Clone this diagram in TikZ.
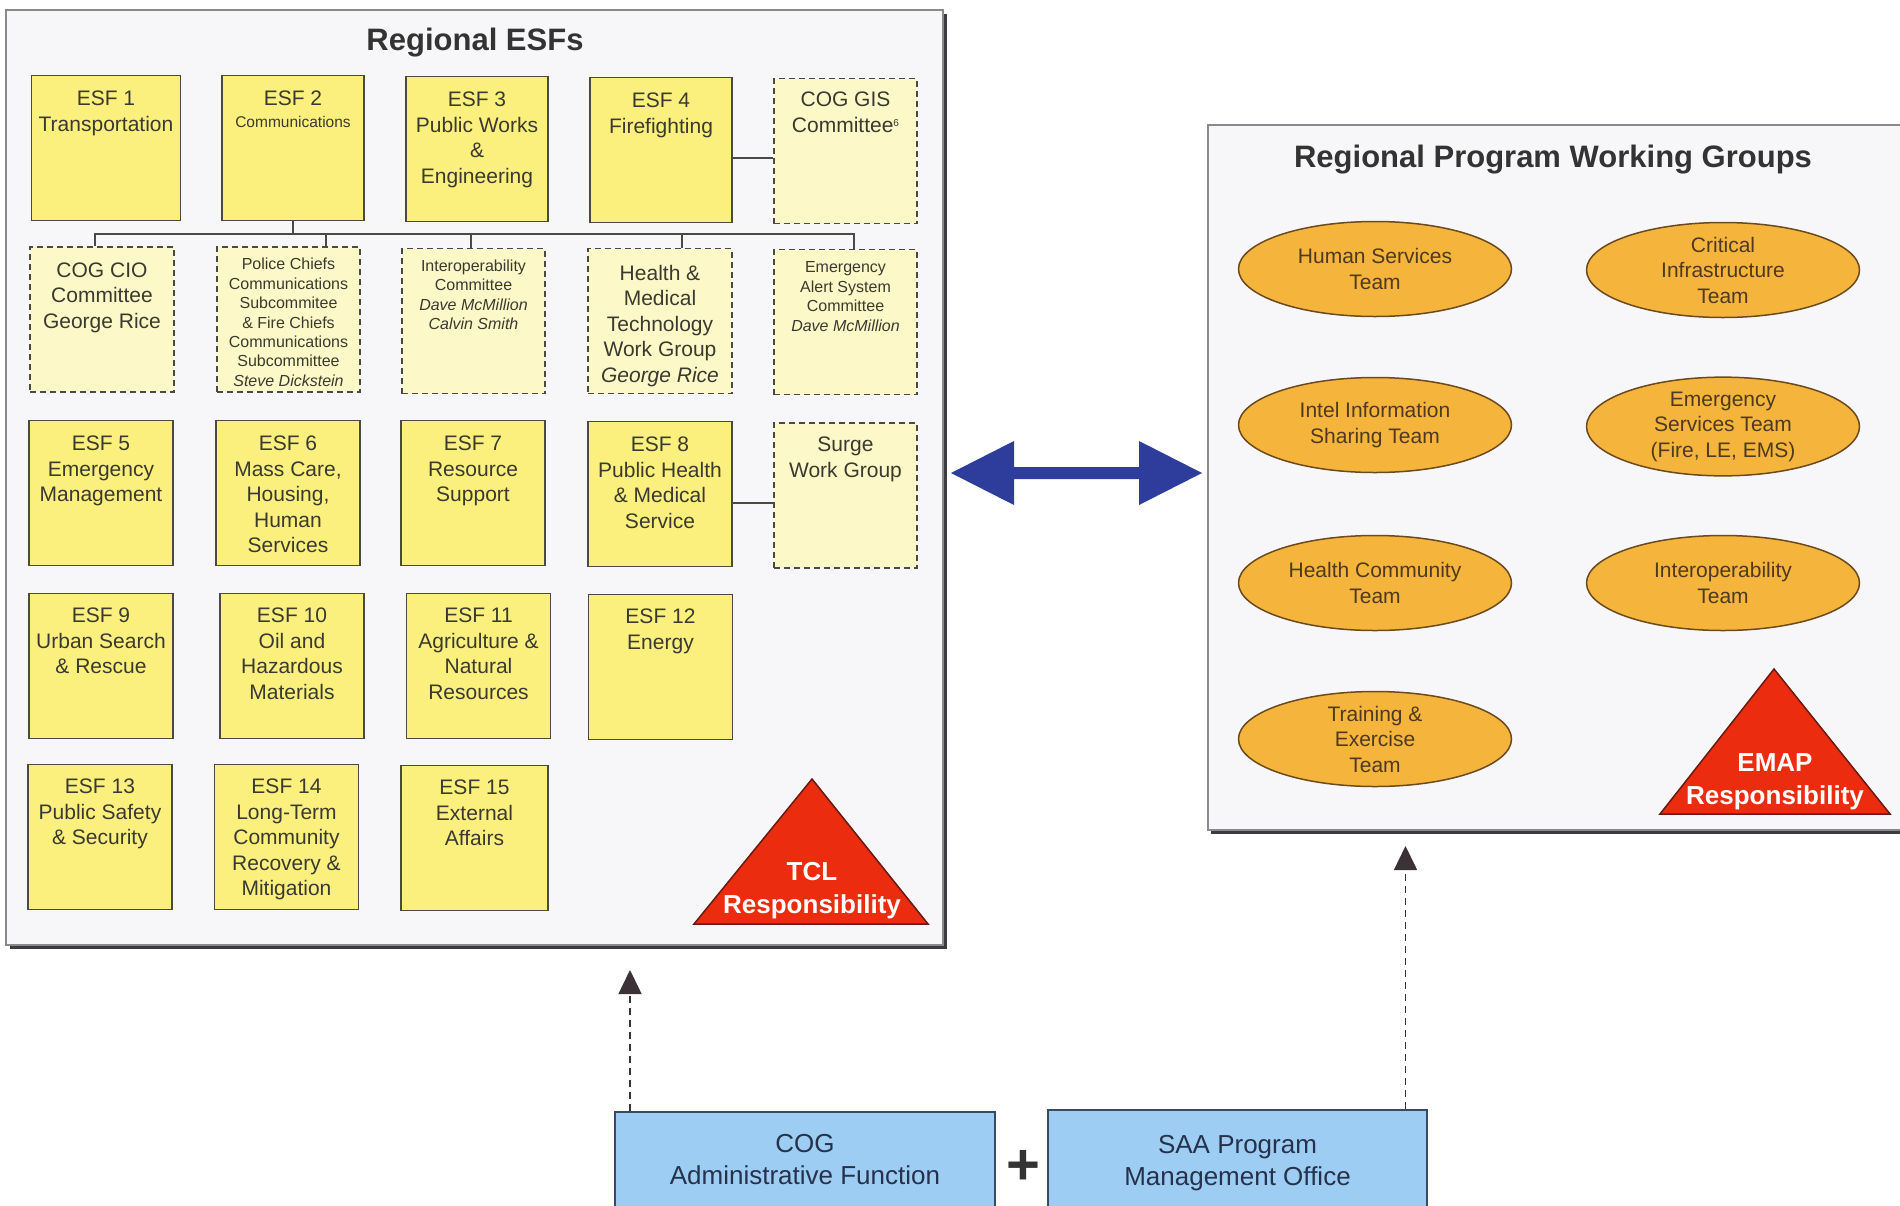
\documentclass[tikz,border=0pt]{standalone}
\usepackage{fontspec}
\setmainfont{Liberation Sans}
\usetikzlibrary{arrows.meta,calc,shapes.geometric}
\definecolor{esfy}{HTML}{FBF07E}
\definecolor{paley}{HTML}{FDF8C8}
\definecolor{boxline}{HTML}{4A4A42}
\definecolor{txt}{HTML}{3A3A30}
\definecolor{panelbg}{HTML}{F7F7F9}
\definecolor{panelline}{HTML}{8A8A8E}
\definecolor{shadowc}{HTML}{3C3C40}
\definecolor{orng}{HTML}{F5B43C}
\definecolor{orline}{HTML}{6B4A1E}
\definecolor{ortxt}{HTML}{4E3A20}
\definecolor{tri}{HTML}{EC2C0E}
\definecolor{triline}{HTML}{6A1A10}
\definecolor{arrblue}{HTML}{2E3C9C}
\definecolor{lblue}{HTML}{9DCDF3}
\definecolor{bline}{HTML}{3C4A60}
\definecolor{btxt}{HTML}{26324C}
\definecolor{darr}{HTML}{3A3236}
\begin{document}
\begin{tikzpicture}[x=1pt,y=-1pt,
  esf/.style={draw=boxline, fill=esfy, line width=1.8pt, minimum width=144pt, minimum height=145pt, inner sep=0pt},
  dbox/.style={draw=boxline, fill=paley, line width=1.8pt, dash pattern=on 6pt off 4pt, minimum width=143pt, minimum height=145pt, inner sep=0pt},
  big/.style={font=\fontsize{21}{25.5}\selectfont, text=txt, align=center, anchor=north, inner sep=0pt},
  small/.style={font=\fontsize{16}{19.4}\selectfont, text=txt, align=center, anchor=north, inner sep=0pt},
  conn/.style={draw=boxline, line width=2pt},
  wg/.style={ellipse, draw=orline, fill=orng, line width=1.5pt, minimum width=273pt, minimum height=95pt, inner sep=0pt, font=\fontsize{21}{25.5}\selectfont, text=ortxt, align=center},
  ttl/.style={font=\fontsize{31}{36}\selectfont\bfseries, text=black!80, anchor=north, inner sep=0pt},
  tritxt/.style={font=\fontsize{26}{33}\selectfont\bfseries, text=white, align=center, anchor=north, inner sep=0pt},
  trishape/.style={fill=tri, draw=triline, line width=1.5pt, line join=miter},
  bbox/.style={draw=bline, fill=lblue, line width=1.8pt, inner sep=0pt},
  btext/.style={font=\fontsize{26}{31.5}\selectfont, text=btxt, align=center, anchor=north, inner sep=0pt},
  darrow/.style={draw=darr, line width=1.6pt, dash pattern=on 7pt off 5pt, -{Triangle[length=24pt,width=23pt]}}
]
\useasboundingbox (0,0) rectangle (1900,1205);
\clip (0,0) rectangle (1900,1205);
\fill[white] (0,0) rectangle (1900,1205);

% ---------- left panel ----------
\fill[shadowc] (10,14) rectangle (947,949);
\node[draw=panelline, fill=panelbg, line width=1.2pt, minimum width=937pt, minimum height=935pt, inner sep=0pt] (lp) at (474.5,477.5) {};
\node[ttl] (lpt) at (475,27.5) {Regional ESFs};

% row 1
\node[esf, minimum width=149pt] (e1) at (106,148) {};
\node[esf, minimum width=142pt] (e2) at (293,148) {};
\node[esf, minimum width=142pt] (e3) at (477,149) {};
\node[esf, minimum width=142pt] (e4) at (661,150) {};
\node[dbox] (gis) at (845.5,151) {};
% row 2
\node[dbox, minimum width=144pt] (cio) at (102,319.5) {};
\node[dbox] (pol) at (288.5,319.5) {};
\node[dbox] (iop) at (473.5,321) {};
\node[dbox, minimum width=144pt] (hmt) at (660,321) {};
\node[dbox] (eas) at (845.5,322) {};
% row 3
\node[esf] (e5) at (101,493) {};
\node[esf] (e6) at (288,493) {};
\node[esf] (e7) at (473,493) {};
\node[esf] (e8) at (660,494) {};
\node[dbox] (surge) at (845.5,495.5) {};
% row 4
\node[esf] (e9) at (101,666) {};
\node[esf] (e10) at (292,666) {};
\node[esf] (e11) at (478.5,666) {};
\node[esf] (e12) at (660.5,667) {};
% row 5
\node[esf] (e13) at (100,837) {};
\node[esf] (e14) at (286.5,837) {};
\node[esf, minimum width=147pt] (e15) at (474.5,838) {};

% texts
\node[big] (e1t) at ([yshift=-16.5pt]e1.north) {ESF 1\\Transportation};
\node[big] (e2t) at ([yshift=-16.5pt]e2.north) {ESF 2\\[-4pt]{\fontsize{15.5}{19}\selectfont Communications}};
\node[big] (e3t) at ([yshift=-16.5pt]e3.north) {ESF 3\\Public Works\\\&\\Engineering};
\node[big] (e4t) at ([yshift=-16.5pt]e4.north) {ESF 4\\Firefighting};
\node[big] (gist) at ([yshift=-14.5pt]gis.north) {COG GIS\\Committee\raisebox{6pt}{\fontsize{10}{10}\selectfont 6}};
\node[big] (ciot) at ([yshift=-16.5pt]cio.north) {COG CIO\\Committee\\George Rice};
\node[small] (polt) at ([yshift=-12pt]pol.north) {Police Chiefs\\Communications\\Subcommitee\\\& Fire Chiefs\\Communications\\Subcommittee\\\textit{Steve Dickstein}};
\node[small] (iopt) at ([yshift=-12pt]iop.north) {Interoperability\\Committee\\\textit{Dave McMillion}\\\textit{Calvin Smith}};
\node[big] (hmtt) at ([yshift=-17pt]hmt.north) {Health \&\\Medical\\Technology\\Work Group\\\textit{George Rice}};
\node[small] (east) at ([yshift=-13pt]eas.north) {Emergency\\Alert System\\Committee\\\textit{Dave McMillion}};
\node[big] (e5t) at ([yshift=-16.5pt]e5.north) {ESF 5\\Emergency\\Management};
\node[big] (e6t) at ([yshift=-16.5pt]e6.north) {ESF 6\\Mass Care,\\Housing,\\Human\\Services};
\node[big] (e7t) at ([yshift=-16.5pt]e7.north) {ESF 7\\Resource\\Support};
\node[big] (e8t) at ([yshift=-16.5pt]e8.north) {ESF 8\\Public Health\\\& Medical\\Service};
\node[big] (surget) at ([yshift=-15pt]surge.north) {Surge\\Work Group};
\node[big] (e9t) at ([yshift=-15.5pt]e9.north) {ESF 9\\Urban Search\\\& Rescue};
\node[big] (e10t) at ([yshift=-15.5pt]e10.north) {ESF 10\\Oil and\\Hazardous\\Materials};
\node[big] (e11t) at ([yshift=-15.5pt]e11.north) {ESF 11\\Agriculture \&\\Natural\\Resources};
\node[big] (e12t) at ([yshift=-15.5pt]e12.north) {ESF 12\\Energy};
\node[big] (e13t) at ([yshift=-15.5pt]e13.north) {ESF 13\\Public Safety\\\& Security};
\node[big] (e14t) at ([yshift=-15.5pt]e14.north) {ESF 14\\Long-Term\\Community\\Recovery \&\\Mitigation};
\node[big] (e15t) at ([yshift=-15.5pt]e15.north) {ESF 15\\External\\Affairs};

% connectors
\coordinate (bus) at (0,234);
\draw[conn] (e2.south) -- (e2.south |- bus);
\draw[conn] ([xshift=-7.5pt]cio.north) |- ([xshift=8.5pt]eas.north |- bus) -- ([xshift=8.5pt]eas.north);
\draw[conn] ([xshift=37.5pt]pol.north) -- ([xshift=37.5pt]pol.north |- bus);
\draw[conn] ([xshift=-2.5pt]iop.north) -- ([xshift=-2.5pt]iop.north |- bus);
\draw[conn] ([xshift=22pt]hmt.north) -- ([xshift=22pt]hmt.north |- bus);
\draw[conn] ([yshift=-7.5pt]e4.east) -- ([yshift=-7.5pt]e4.east -| gis.west);
\draw[conn] ([yshift=-9pt]e8.east) -- ([yshift=-9pt]e8.east -| surge.west);

% TCL triangle
\coordinate (tclA) at (812,779);
\coordinate (tclB) at (694,924);
\coordinate (tclC) at (928,924);
\draw[trishape] (tclA) -- (tclB) -- (tclC) -- cycle;
\node[tritxt] (tclt) at (812,862.5) {TCL\\Responsibility};

% ---------- right panel ----------
\fill[shadowc] (1211,129) rectangle (1910,834);
\node[draw=panelline, fill=panelbg, line width=1.2pt, minimum width=702pt, minimum height=705pt, inner sep=0pt] (rp) at (1559,477.5) {};
\node[ttl] (rpt) at (1553,144.7) {Regional Program Working Groups};

\node[wg] (hs) at (1375,269) {Human Services\\Team};
\node[wg] (ci) at (1723,270) {Critical\\Infrastructure\\Team};
\node[wg] (ii) at (1375,425) {Intel Information\\Sharing Team};
\node[wg] (es) at (1723,426.5) {Emergency\\Services Team\\(Fire, LE, EMS)};
\node[wg] (hc) at (1375,583) {Health Community\\Team};
\node[wg] (it) at (1723,583) {Interoperability\\Team};
\node[wg] (te) at (1375,739) {Training \&\\Exercise\\Team};

% EMAP triangle
\coordinate (emA) at (1774,669);
\coordinate (emB) at (1660,814);
\coordinate (emC) at (1890,814);
\draw[trishape] (emA) -- (emB) -- (emC) -- cycle;
\node[tritxt] (emt) at (1775,753.5) {EMAP\\Responsibility};

% ---------- blue double arrow ----------
\coordinate (dal) at (951,473);
\coordinate (dar) at (1202,473);
\fill[arrblue] (dal) -- ++(63,-32) -- ++(0,26) -- ($(dar)+(-63,-6)$) -- ++(0,-26) -- (dar)
  -- ++(-63,32) -- ++(0,-26) -- ($(dal)+(63,6)$) -- ++(0,26) -- cycle;

% ---------- bottom boxes ----------
\node[bbox, minimum width=380pt, minimum height=110pt] (cog) at (805,1167) {};
\node[bbox, minimum width=379pt, minimum height=112pt] (saa) at (1237.5,1166) {};
\node[btext] (cogt) at (805,1134.5) {COG\\Administrative Function};
\node[btext] (saat) at (1237.5,1135.5) {SAA Program\\Management Office};
\node[font=\fontsize{58}{58}\selectfont\bfseries, text=black!80, inner sep=0pt] (plus) at (1023,1167) {+};

% dashed arrows
\coordinate (tipL) at (630,970);
\coordinate (tipR) at (1405.5,846);
\draw[darrow] (cog.north -| tipL) -- (tipL);
\draw[darrow] (saa.north -| tipR) -- (tipR);
\end{tikzpicture}
\end{document}
